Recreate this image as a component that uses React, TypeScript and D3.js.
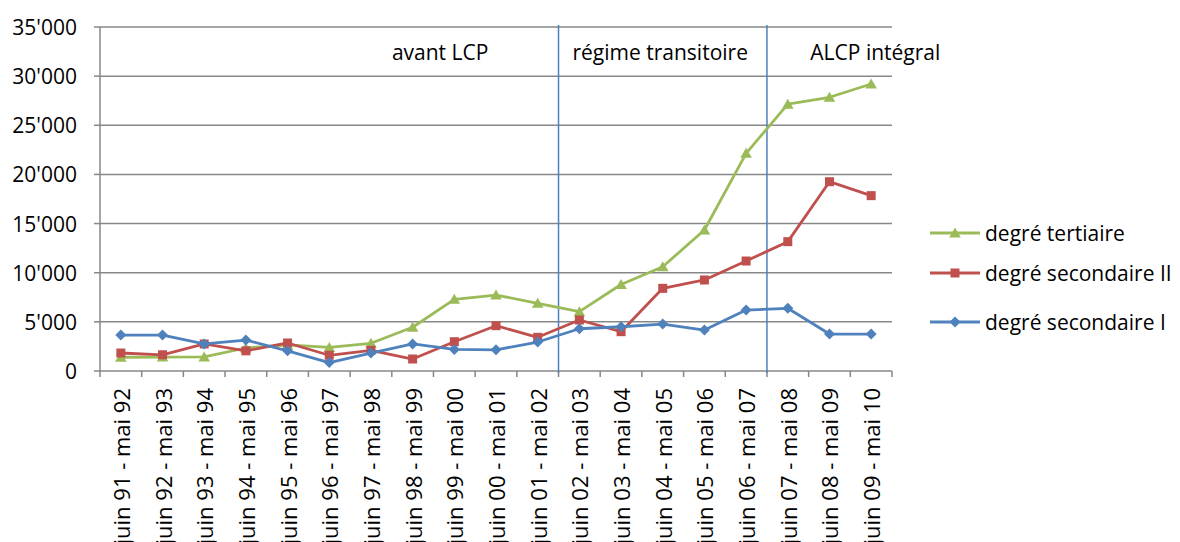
import React from "react";
import * as d3 from "d3";

const categories = [
  "juin 91 - mai 92", "juin 92 - mai 93", "juin 93 - mai 94", "juin 94 - mai 95",
  "juin 95 - mai 96", "juin 96 - mai 97", "juin 97 - mai 98", "juin 98 - mai 99",
  "juin 99 - mai 00", "juin 00 - mai 01", "juin 01 - mai 02", "juin 02 - mai 03",
  "juin 03 - mai 04", "juin 04 - mai 05", "juin 05 - mai 06", "juin 06 - mai 07",
  "juin 07 - mai 08", "juin 08 - mai 09", "juin 09 - mai 10",
];

const tertiaire = [1400, 1420, 1430, 2340, 2650, 2400, 2820, 4450, 7290, 7730, 6890, 6040, 8800, 10610, 14350, 22150, 27150, 27850, 29200];
const secondaireII = [1830, 1650, 2750, 2050, 2850, 1600, 2100, 1220, 2980, 4610, 3430, 5190, 4000, 8410, 9260, 11190, 13160, 19260, 17840];
const secondaireI = [3660, 3660, 2750, 3150, 2050, 860, 1820, 2750, 2200, 2150, 2950, 4300, 4500, 4770, 4170, 6200, 6380, 3760, 3760];

const yTicks = [0, 5000, 10000, 15000, 20000, 25000, 30000, 35000];
const phases = [
  { label: "avant LCP", at: 8.16 },
  { label: "régime transitoire", at: 13.44 },
  { label: "ALCP intégral", at: 18.6 },
];
const phaseBoundaries = [11, 16];

const series = [
  { name: "degré tertiaire", values: tertiaire, color: "#9bbb59", marker: "triangle" },
  { name: "degré secondaire II", values: secondaireII, color: "#c0504d", marker: "square" },
  { name: "degré secondaire I", values: secondaireI, color: "#4f81bd", marker: "diamond" },
];

const FONT = "'Open Sans', sans-serif";
const FS = 21;

function Marker({ type, x, y, color }: { type: string; x: number; y: number; color: string }) {
  if (type === "triangle") {
    return <path d={`M${x},${y - 5.5} L${x + 5.8},${y + 4.5} L${x - 5.8},${y + 4.5} Z`} fill={color} />;
  }
  if (type === "square") {
    return <rect x={x - 4.5} y={y - 4.5} width={9} height={9} fill={color} />;
  }
  const s = 5.5;
  return <path d={`M${x},${y - s} L${x + s},${y} L${x},${y + s} L${x - s},${y} Z`} fill={color} />;
}

export default function App() {
  const W = 1180, H = 542;
  const left = 100, right = 892, top = 27, bottom = 371;
  const x = d3.scaleBand<number>().domain(d3.range(categories.length)).range([left, right]);
  const y = d3.scaleLinear().domain([0, 35000]).range([bottom, top]);
  const cx = (i: number) => (x(i) as number) + x.bandwidth() / 2;
  const bx = (i: number) => left + i * x.bandwidth();
  const line = d3.line<number>().x((_, i) => cx(i)).y((v) => y(v));
  const fmt = (v: number) => d3.format(",")(v).replace(/,/g, "'");
  const legendY = [233, 273, 322];

  return (
    <svg width={W} height={H} style={{ position: "absolute", left: 0, top: 0, background: "#fff" }} fontFamily={FONT}>
      <rect width={W} height={H} fill="#fff" />
      {yTicks.map((t) => (
        <g key={t}>
          {t > 0 && <line x1={left} x2={right} y1={y(t)} y2={y(t)} stroke="#878787" strokeWidth={1.5} />}
          <line x1={left - 6} x2={left} y1={y(t)} y2={y(t)} stroke="#878787" strokeWidth={1.5} />
          <text x={77} y={y(t)} textAnchor="end" dominantBaseline="central" fontSize={FS} fill="#000">{fmt(t)}</text>
        </g>
      ))}
      <line x1={left} x2={left} y1={top} y2={bottom} stroke="#878787" strokeWidth={1.5} />
      <line x1={left} x2={right} y1={bottom} y2={bottom} stroke="#878787" strokeWidth={1.5} />
      {d3.range(categories.length + 1).map((i) => (
        <line key={i} x1={bx(i)} x2={bx(i)} y1={bottom} y2={bottom + 6} stroke="#878787" strokeWidth={1.5} />
      ))}
      {phaseBoundaries.map((b) => (
        <line key={b} x1={bx(b)} x2={bx(b)} y1={top - 2} y2={bottom + 2} stroke="#4f81bd" strokeWidth={1.5} />
      ))}
      {phases.map((p) => (
        <text key={p.label} x={left + p.at * x.bandwidth()} y={52} textAnchor="middle" dominantBaseline="central" fontSize={FS} fill="#000">
          {p.label}
        </text>
      ))}
      {series.map((s) => (
        <g key={s.name}>
          <path d={line(s.values) || ""} fill="none" stroke={s.color} strokeWidth={2.8} strokeLinejoin="round" />
          {s.values.map((v, i) => (
            <Marker key={i} type={s.marker} x={cx(i)} y={y(v)} color={s.color} />
          ))}
        </g>
      ))}
      {categories.map((c, i) => (
        <text key={c} transform={`translate(${cx(i)},${388}) rotate(-90)`} textAnchor="end" dominantBaseline="central" fontSize={22} fill="#000">
          {c}
        </text>
      ))}
      {series.map((s, k) => (
        <g key={s.name}>
          <line x1={930} x2={980} y1={legendY[k]} y2={legendY[k]} stroke={s.color} strokeWidth={2.8} />
          <Marker type={s.marker} x={955} y={legendY[k]} color={s.color} />
          <text x={985} y={legendY[k]} dominantBaseline="central" fontSize={FS} fill="#000">{s.name}</text>
        </g>
      ))}
    </svg>
  );
}
